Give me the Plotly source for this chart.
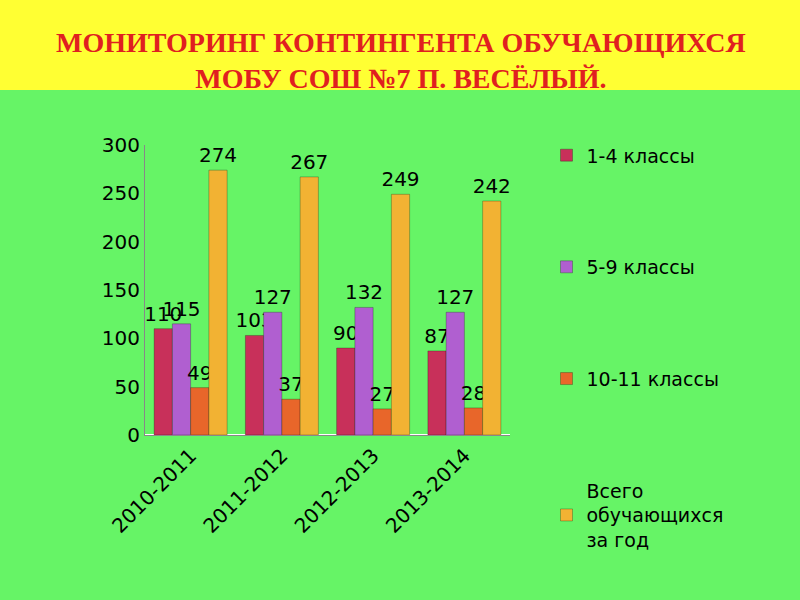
import plotly.graph_objects as go

years = ["2010-2011", "2011-2012", "2012-2013", "2013-2014"]
s1 = [110, 103, 90, 87]
s2 = [115, 127, 132, 127]
s3 = [49, 37, 27, 28]
s4 = [274, 267, 249, 242]
names = ["1-4 классы", "5-9 классы", "10-11 классы", "Всего<br>обучающихся<br>за год"]
colors = ["#C8305A", "#B05FD0", "#E8662A", "#F2B233"]

fig = go.Figure()
for i, (vals, nm, c) in enumerate(zip([s1, s2, s3, s4], names, colors)):
    fig.add_bar(x=years, y=vals, name=nm, marker=dict(color=c, line=dict(color="rgba(0,0,0,0.25)", width=1)),
                text=[str(v) for v in vals], textposition="outside",
                textfont=dict(size=20, color="black", family="DejaVu Sans"),
                legendgroup=str(i), cliponaxis=False)

fig.update_layout(
    width=800, height=600, barmode="group", bargap=0.2, bargroupgap=0.0,
    margin=dict(l=145, r=290, t=145, b=165),
    paper_bgcolor="#66F466", plot_bgcolor="#66F466",
    font=dict(family="DejaVu Sans", size=20, color="black"),
    uniformtext=dict(minsize=19, mode="show"),
    yaxis=dict(range=[0, 300], dtick=50, showgrid=False, showline=True, linecolor="#888",
               ticks="", tickfont=dict(size=20)),
    xaxis=dict(showline=True, linecolor="#888", tickangle=-45, tickfont=dict(size=20)),
    legend=dict(x=1.1, y=1.03, yanchor="top", tracegroupgap=84, font=dict(size=19),
                bgcolor="rgba(0,0,0,0)", maxheight=1),
    shapes=[dict(type="rect", xref="paper", yref="paper", x0=-0.4, x1=1.8, y0=1.19, y1=1.5,
                 fillcolor="#FFFF33", line=dict(width=0), layer="below")],
    annotations=[dict(xref="paper", yref="paper", x=0.7, y=1.29, xanchor="center", yanchor="middle",
                      showarrow=False,
                      text="<b>МОНИТОРИНГ КОНТИНГЕНТА ОБУЧАЮЩИХСЯ<br>МОБУ СОШ №7 П. ВЕСЁЛЫЙ.</b>",
                      font=dict(family="Liberation Serif", size=28, color="#E02020"))],
)
fig.write_html("out.html", config={"displayModeBar": False},
               post_script="document.body.style.margin='0';")
